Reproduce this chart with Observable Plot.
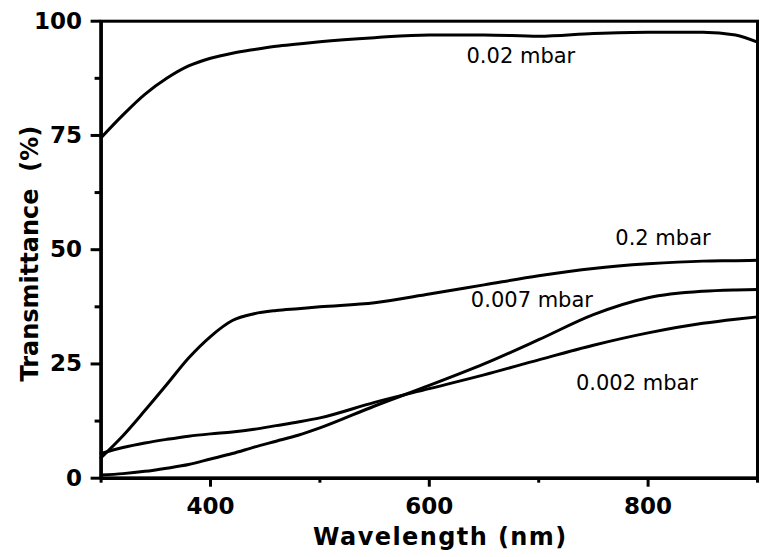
<!DOCTYPE html>
<html>
<head>
<meta charset="utf-8">
<script src="https://cdn.jsdelivr.net/npm/d3@7"></script>
<script src="https://cdn.jsdelivr.net/npm/@observablehq/plot@0.6"></script>
<style>
  html, body { margin: 0; padding: 0; background: #fff; }
</style>
</head>
<body>
<div id="chart"></div>
<script>
// Wavelength samples (nm)
const wavelength = [300, 320, 340, 360, 380, 400, 420, 440, 460, 480, 500, 550, 600, 650, 700, 750, 800, 850, 880, 900];
// Transmittance (%) per pressure
const t_0_02mbar  = [74.5, 79.5, 84, 87.5, 90.2, 91.9, 93, 93.8, 94.5, 95, 95.5, 96.4, 97, 97, 96.7, 97.3, 97.6, 97.6, 97, 95.4];
const t_0_2mbar   = [4.5, 9.3, 14.8, 20.5, 26.3, 31, 34.5, 36, 36.7, 37.1, 37.5, 38.4, 40.3, 42.3, 44.3, 45.9, 46.9, 47.5, 47.6, 47.7];
const t_0_007mbar = [0.7, 1.0, 1.5, 2.2, 3.0, 4.2, 5.4, 6.8, 8.1, 9.4, 11, 15.8, 20.3, 25, 30.3, 35.8, 39.5, 40.9, 41.2, 41.3];
const t_0_002mbar = [5.4, 6.7, 7.7, 8.5, 9.2, 9.7, 10.1, 10.7, 11.5, 12.3, 13.2, 16.6, 19.6, 22.6, 25.9, 29.1, 31.8, 33.9, 34.8, 35.3];

const seriesNames = ["0.02 mbar", "0.2 mbar", "0.007 mbar", "0.002 mbar"];
const seriesValues = [t_0_02mbar, t_0_2mbar, t_0_007mbar, t_0_002mbar];

// Label anchor positions (data units)
const labelWavelength = [634, 770, 638, 734];
const labelTransmittance = [92.3, 52.6, 38.9, 20.8];

const xMajor = [400, 600, 800];
const xMinor = [300, 500, 700, 900];
const yMajor = [0, 25, 50, 75, 100];
const yMinor = [12.5, 37.5, 62.5, 87.5];

const data = seriesNames.flatMap((name, i) =>
  wavelength.map((w, j) => ({series: name, wl: w, t: seriesValues[i][j]}))
);
const labels = seriesNames.map((name, i) => ({name, wl: labelWavelength[i], t: labelTransmittance[i]}));

const chart = Plot.plot({
  width: 766,
  height: 557,
  marginLeft: 100.6,
  marginRight: 9,
  marginTop: 20.7,
  marginBottom: 79.3,
  style: {fontFamily: "DejaVu Sans", background: "#fff", color: "#000"},
  x: {domain: [300, 900], label: null},
  y: {domain: [0, 100], label: null},
  marks: [
    Plot.line(data, {x: "wl", y: "t", z: "series", stroke: "#000", strokeWidth: 3, curve: "monotone-x"}),
    Plot.frame({stroke: "#000", strokeWidth: 3}),
    Plot.ruleX([300], {stroke: "#000", strokeWidth: 3.5}),
    Plot.ruleY([0], {stroke: "#000", strokeWidth: 3.5}),
    Plot.axisX(xMajor, {tickSize: 9, tickPadding: 10, strokeWidth: 3, fontSize: 23, fontWeight: "bold", label: null}),
    Plot.axisX(xMinor, {tickSize: 5, strokeWidth: 3, tickFormat: () => "", label: null}),
    Plot.axisY(yMajor, {tickSize: 10, tickPadding: 9, strokeWidth: 3, fontSize: 23, fontWeight: "bold", label: null}),
    Plot.axisY(yMinor, {tickSize: 6, strokeWidth: 3, tickFormat: () => "", label: null}),
    Plot.text(labels, {x: "wl", y: "t", text: "name", textAnchor: "start", fontSize: 21, fill: "#000"}),
    Plot.text(["Wavelength (nm)"], {frameAnchor: "bottom", textAnchor: "middle", lineAnchor: "middle", dx: 11, dy: 59.5, fontSize: 24, fontWeight: "bold", fill: "#000"}),
    Plot.text(["Transmittance  (%)"], {frameAnchor: "left", textAnchor: "middle", lineAnchor: "middle", dx: -71, dy: 4, rotate: -90, fontSize: 24, fontWeight: "bold", fill: "#000"})
  ]
});

d3.select(chart).selectAll("text").filter(function() { return this.textContent === "Wavelength (nm)"; })
  .style("letter-spacing", "1.4px");

document.getElementById("chart").appendChild(chart);
</script>
</body>
</html>
